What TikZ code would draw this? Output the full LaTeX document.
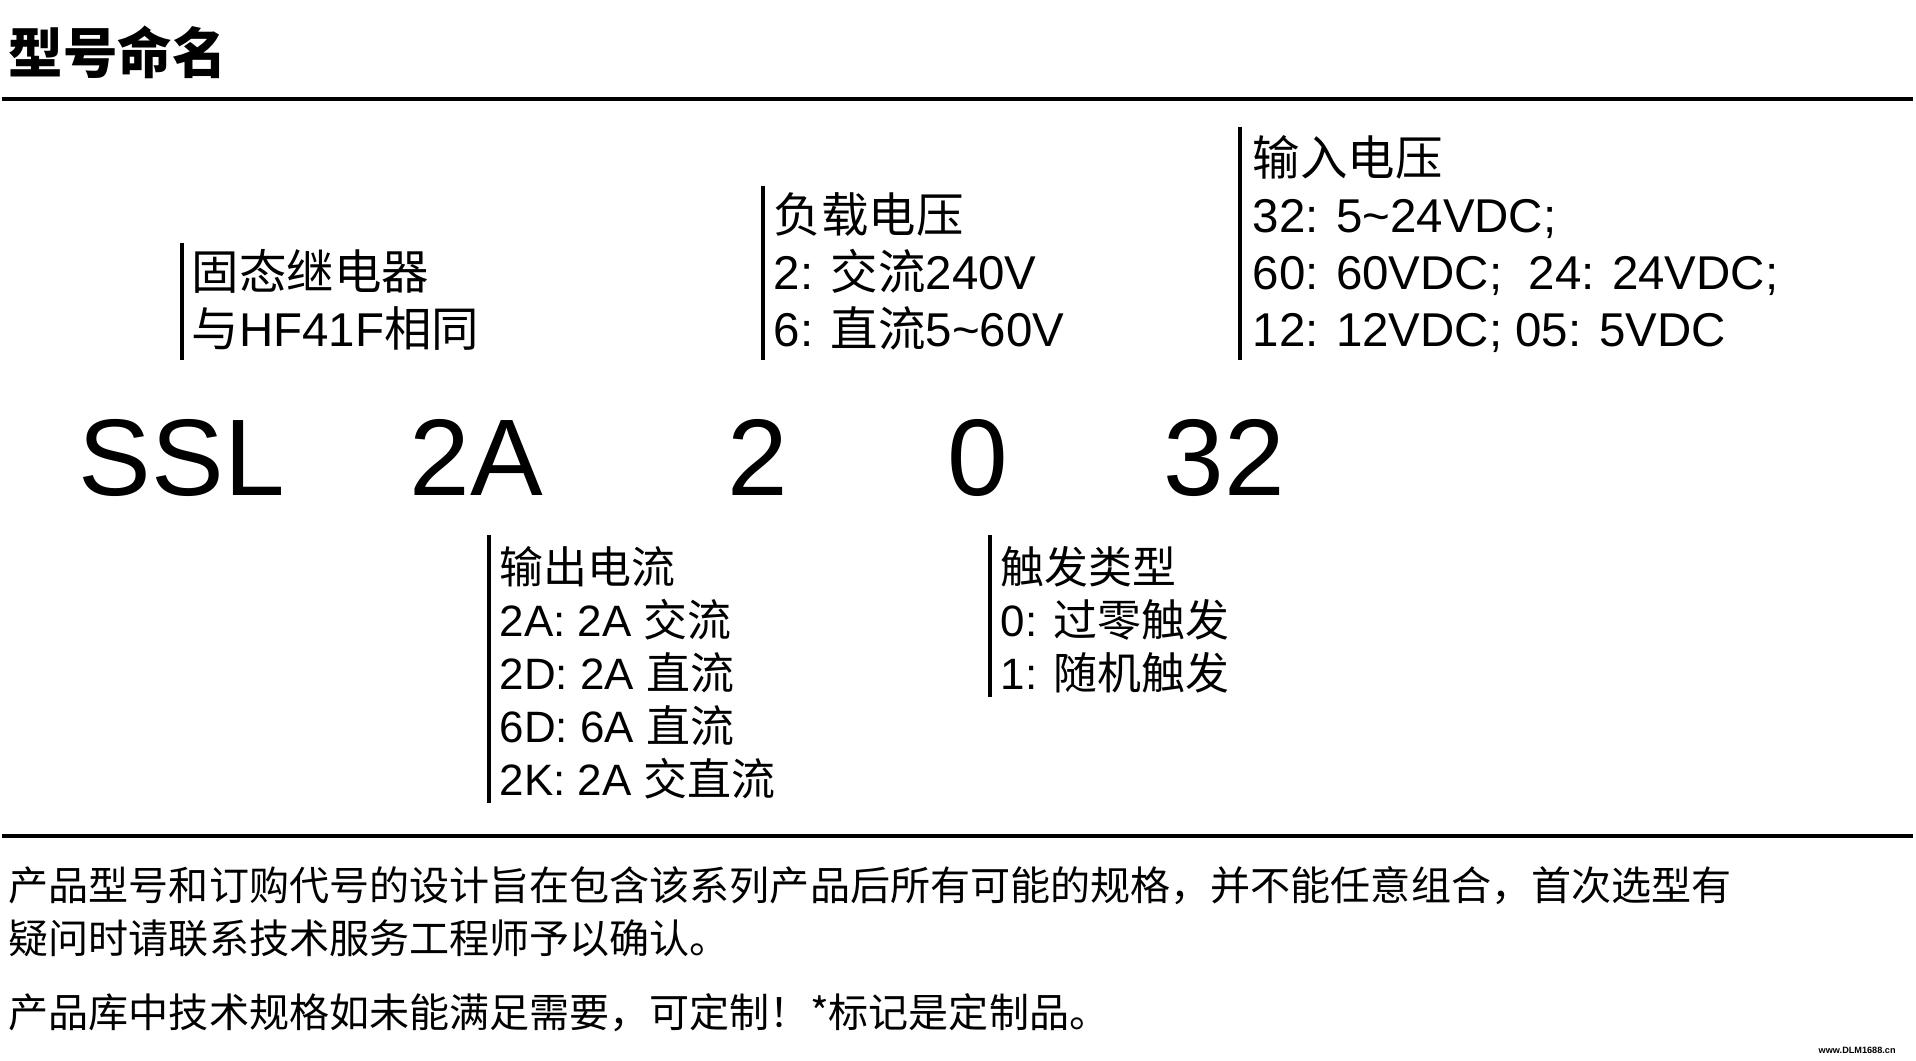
\documentclass[tikz,border=0pt]{standalone}
\usepackage{fontspec}
\setmainfont{Liberation Sans}
\newfontfamily\cjk{Noto Sans CJK SC}
\newcommand{\zh}[1]{{\cjk #1}}
\newcommand{\tld}{\textasciitilde}
\usetikzlibrary{positioning}

\begin{document}
\begin{tikzpicture}[
  x=0.1mm, y=-0.1mm,
  txt/.style={inner sep=0pt, anchor=base west},
  up/.style={txt, font=\fontsize{13.5}{16}\selectfont},
  lo/.style={txt, font=\fontsize{12.5}{15}\selectfont},
  code/.style={txt, font=\fontsize{31}{36}\selectfont},
  note/.style={txt, font=\fontsize{11.4}{14}\selectfont\cjk},
  bar/.style={line width=0.9pt},
  rule/.style={line width=0.9pt},
]
  \useasboundingbox (0,0) rectangle (1916,1060);

  % heading
  \node[txt, font=\fontsize{15.5}{18}\selectfont\cjk\bfseries] (title) at (8,73) {型号命名};
  \draw[rule] (2,99) -- (1913,99);

  % code
  \node[code] (ssl) at (78,495) {SSL};
  \node[code] (cur) at (409,495) {2A};
  \node[code] (load) at (727,495) {2};
  \node[code] (trig) at (947,495) {0};
  \node[code] (vin) at (1163,495) {32};

  % upper groups
  \draw[bar] (182,243) -- (182,360);
  \foreach \t [count=\i] in {{\zh{固态继电器}}, {\zh{与}HF41F\zh{相同}}}
    \node[up] (ser\i) at (191,232+57*\i) {\t};

  \draw[bar] (763,186) -- (763,360);
  \foreach \t [count=\i] in {{\zh{负载电压}}, {2: \zh{交流}240V}, {6: \zh{直流}5\tld60V}}
    \node[up] (ld\i) at (773,175+57*\i) {\t};

  \draw[bar] (1240,127) -- (1240,360);
  \foreach \t [count=\i] in {{\zh{输入电压}}, {32: 5\tld24VDC;},
      {60: 60VDC;\ \ 24: 24VDC;}, {12: 12VDC; 05: 5VDC}}
    \node[up] (vi\i) at (1252,118+57*\i) {\t};

  % lower groups
  \draw[bar] (489,535) -- (489,803);
  \foreach \t [count=\i] in {{\zh{输出电流}}, {2A: 2A \zh{交流}}, {2D: 2A \zh{直流}},
      {6D: 6A \zh{直流}}, {2K: 2A \zh{交直流}}}
    \node[lo] (oc\i) at (499,530+53*\i) {\t};

  \draw[bar] (990,535) -- (990,697);
  \foreach \t [count=\i] in {{\zh{触发类型}}, {0: \zh{过零触发}}, {1: \zh{随机触发}}}
    \node[lo] (tr\i) at (1000,530+53*\i) {\t};

  % notes
  \draw[rule] (2,836) -- (1913,836);
  \node[note] (n1) at (8,900) {产品型号和订购代号的设计旨在包含该系列产品后所有可能的规格，并不能任意组合，首次选型有};
  \node[note] (n2) at (8,953) {疑问时请联系技术服务工程师予以确认。};
  \node[note] (n3) at (8,1027) {产品库中技术规格如未能满足需要，可定制！*标记是定制品。};
  \node[txt, font=\fontsize{2.6}{3}\selectfont\bfseries] (web) at (1818,1053) {www.DLM1688.cn};
\end{tikzpicture}
\end{document}
